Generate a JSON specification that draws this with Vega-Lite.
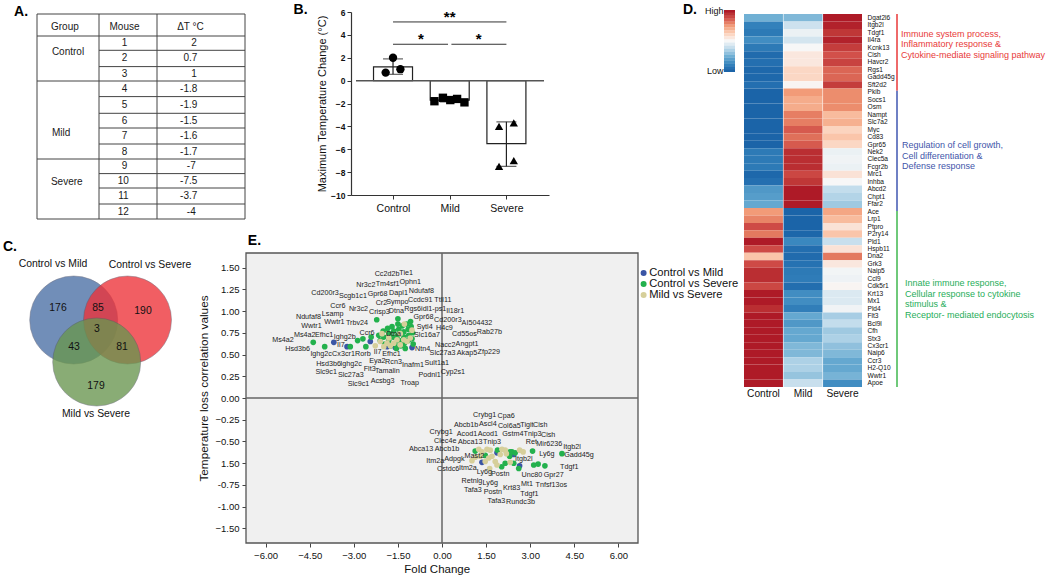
{"$schema":"https://vega.github.io/schema/vega-lite/v6.json","width":1050,"height":580,"padding":0,"autosize":{"type":"none"},"background":"white","config":{"view":{"stroke":null},"font":"Liberation Sans"},
"resolve":{"scale":{"x":"independent","y":"independent","color":"independent","shape":"independent"},"axis":{"x":"independent","y":"independent"},"legend":{"color":"independent"}},
"datasets":{
"tableLines":[{"x":0,"x2":3,"y":-1},{"x":0,"x2":3,"y":0},{"x":1,"x2":3,"y":1},{"x":1,"x2":3,"y":2},{"x":0,"x2":3,"y":3},{"x":1,"x2":3,"y":4},{"x":1,"x2":3,"y":5},{"x":1,"x2":3,"y":6},{"x":1,"x2":3,"y":7},{"x":0,"x2":3,"y":8},{"x":1,"x2":3,"y":9},{"x":1,"x2":3,"y":10},{"x":1,"x2":3,"y":11},{"x":0,"x2":3,"y":12}],
"tableCols":[{"x":0,"y":-1,"y2":12},{"x":1,"y":-1,"y2":12},{"x":2,"y":-1,"y2":12},{"x":3,"y":-1,"y2":12}],
"tableText":[{"t":"Group","c":0.45,"r":-0.4},{"t":"Mouse","c":1.44,"r":-0.4},{"t":"ΔT °C","c":2.38,"r":-0.4},{"t":"Control","c":0.5,"r":1.1},{"t":"Mild","c":0.39,"r":6.3},{"t":"Severe","c":0.48,"r":9.55},
{"t":"1","c":1.44,"r":0.5},{"t":"2","c":1.44,"r":1.5},{"t":"3","c":1.44,"r":2.5},{"t":"4","c":1.44,"r":3.5},{"t":"5","c":1.44,"r":4.5},{"t":"6","c":1.44,"r":5.5},{"t":"7","c":1.44,"r":6.5},{"t":"8","c":1.44,"r":7.5},{"t":"9","c":1.44,"r":8.5},{"t":"10","c":1.42,"r":9.5},{"t":"11","c":1.42,"r":10.5},{"t":"12","c":1.42,"r":11.5},
{"t":"2","c":2.42,"r":0.5},{"t":"0.7","c":2.38,"r":1.5},{"t":"1","c":2.42,"r":2.5},{"t":"-1.8","c":2.36,"r":3.5},{"t":"-1.9","c":2.36,"r":4.5},{"t":"-1.5","c":2.36,"r":5.5},{"t":"-1.6","c":2.36,"r":6.5},{"t":"-1.7","c":2.36,"r":7.5},{"t":"-7","c":2.39,"r":8.5},{"t":"-7.5","c":2.36,"r":9.5},{"t":"-3.7","c":2.36,"r":10.5},{"t":"-4","c":2.39,"r":11.5}],
"bars":[{"group":"Control","pos":1,"mean":1.2,"zero":0,"lo":0.55,"hi":1.9},{"group":"Mild","pos":2,"mean":-1.7,"zero":0,"lo":-1.86,"hi":-1.54},{"group":"Severe","pos":3,"mean":-5.5,"zero":0,"lo":-7.5,"hi":-3.6}],
"mice":[{"group":"Control","pos":0.87,"dt":0.7},{"group":"Control","pos":1,"dt":2},{"group":"Control","pos":1.13,"dt":1},{"group":"Mild","pos":1.73,"dt":-1.8},{"group":"Mild","pos":1.88,"dt":-1.5},{"group":"Mild","pos":2.01,"dt":-1.7},{"group":"Mild","pos":2.13,"dt":-1.6},{"group":"Mild","pos":2.26,"dt":-1.9},{"group":"Severe","pos":2.87,"dt":-7.5},{"group":"Severe","pos":3.13,"dt":-7},{"group":"Severe","pos":2.87,"dt":-4},{"group":"Severe","pos":3.13,"dt":-3.7}],
"brackets":[{"a":1,"b":3,"y":5.13},{"a":1,"b":1.97,"y":3.18},{"a":2.03,"b":3,"y":3.18}],
"stars":[{"t":"**","pos":2,"y":5.6},{"t":"*","pos":1.49,"y":3.65},{"t":"*","pos":2.51,"y":3.65}],
"venn":[{"set":"Control vs Mild","x":73.7,"y":90},{"set":"Control vs Severe","x":127.5,"y":90},{"set":"Mild vs Severe","x":96.7,"y":132}],
"vennText":[{"t":"176","x":58,"y":78},{"t":"85","x":98,"y":78},{"t":"190","x":143,"y":81},{"t":"3","x":97,"y":99},{"t":"43","x":74,"y":117},{"t":"81","x":122,"y":117},{"t":"179","x":96,"y":156},{"t":"Control vs Mild","x":53,"y":34},{"t":"Control vs Severe","x":150,"y":35},{"t":"Mild vs Severe","x":96,"y":184}],
"points":[{"c":"Control vs Mild","f":-3.68,"v":0.64},{"c":"Control vs Mild","f":-3.23,"v":0.59},{"c":"Control vs Mild","f":-2.44,"v":0.65},{"c":"Control vs Mild","f":-1.02,"v":0.58},{"c":"Control vs Mild","f":-1.59,"v":0.58},{"c":"Control vs Mild","f":-1.87,"v":0.59},{"c":"Control vs Mild","f":1.36,"v":-0.74},{"c":"Control vs Mild","f":1.87,"v":-0.63},{"c":"Control vs Mild","f":2.44,"v":-0.65},{"c":"Control vs Mild","f":2.64,"v":-0.78},
{"c":"Control vs Severe","f":-4.38,"v":0.64},{"c":"Control vs Severe","f":-3.99,"v":0.59},{"c":"Control vs Severe","f":-3.12,"v":0.59},{"c":"Control vs Severe","f":-2.87,"v":0.66},{"c":"Control vs Severe","f":-2.59,"v":0.59},{"c":"Control vs Severe","f":-2.41,"v":0.7},{"c":"Control vs Severe","f":-2.69,"v":0.68},{"c":"Control vs Severe","f":-2.22,"v":0.9},{"c":"Control vs Severe","f":-1.5,"v":0.91},{"c":"Control vs Severe","f":-1.07,"v":0.88},{"c":"Control vs Severe","f":-2.15,"v":0.72},{"c":"Control vs Severe","f":-2.1,"v":0.66},{"c":"Control vs Severe","f":-2.0,"v":0.77},{"c":"Control vs Severe","f":-1.98,"v":0.7},{"c":"Control vs Severe","f":-1.95,"v":0.62},{"c":"Control vs Severe","f":-1.85,"v":0.8},{"c":"Control vs Severe","f":-1.8,"v":0.74},{"c":"Control vs Severe","f":-1.81,"v":0.66},{"c":"Control vs Severe","f":-1.7,"v":0.82},{"c":"Control vs Severe","f":-1.64,"v":0.77},{"c":"Control vs Severe","f":-1.66,"v":0.7},{"c":"Control vs Severe","f":-1.6,"v":0.62},{"c":"Control vs Severe","f":-1.5,"v":0.85},{"c":"Control vs Severe","f":-1.47,"v":0.79},{"c":"Control vs Severe","f":-1.5,"v":0.72},{"c":"Control vs Severe","f":-1.45,"v":0.66},{"c":"Control vs Severe","f":-1.4,"v":0.6},{"c":"Control vs Severe","f":-1.35,"v":0.83},{"c":"Control vs Severe","f":-1.3,"v":0.76},{"c":"Control vs Severe","f":-1.3,"v":0.7},{"c":"Control vs Severe","f":-1.28,"v":0.63},{"c":"Control vs Severe","f":-1.2,"v":0.85},{"c":"Control vs Severe","f":-1.15,"v":0.79},{"c":"Control vs Severe","f":-1.13,"v":0.72},{"c":"Control vs Severe","f":-1.15,"v":0.66},{"c":"Control vs Severe","f":-1.05,"v":0.82},{"c":"Control vs Severe","f":-1.0,"v":0.75},{"c":"Control vs Severe","f":-1.02,"v":0.68},{"c":"Control vs Severe","f":-0.98,"v":0.62},{"c":"Control vs Severe","f":-1.25,"v":0.57},{"c":"Control vs Severe","f":-1.55,"v":0.57},{"c":"Control vs Severe","f":-1.75,"v":0.6},
{"c":"Control vs Severe","f":3.08,"v":-0.61},{"c":"Control vs Severe","f":4.08,"v":-0.64},{"c":"Control vs Severe","f":3.12,"v":-0.77},{"c":"Control vs Severe","f":3.27,"v":-0.76},{"c":"Control vs Severe","f":3.5,"v":-0.78},{"c":"Control vs Severe","f":2.61,"v":-0.81},{"c":"Control vs Severe","f":2.03,"v":-0.79},{"c":"Control vs Severe","f":2.15,"v":-0.75},{"c":"Control vs Severe","f":2.3,"v":-0.67},{"c":"Control vs Severe","f":2.38,"v":-0.62},{"c":"Control vs Severe","f":2.49,"v":-0.63},{"c":"Control vs Severe","f":2.44,"v":-0.75},{"c":"Control vs Severe","f":1.89,"v":-0.6},{"c":"Control vs Severe","f":1.13,"v":-0.61},{"c":"Control vs Severe","f":1.47,"v":-0.66},{"c":"Control vs Severe","f":2.32,"v":-0.62},
{"c":"Mild vs Severe","f":-1.28,"v":0.85},{"c":"Mild vs Severe","f":-2.04,"v":0.74},{"c":"Mild vs Severe","f":-1.81,"v":0.69},{"c":"Mild vs Severe","f":-1.42,"v":0.74},{"c":"Mild vs Severe","f":-1.02,"v":0.78},{"c":"Mild vs Severe","f":-2.1,"v":0.65},{"c":"Mild vs Severe","f":-2.27,"v":0.6},{"c":"Mild vs Severe","f":-1.98,"v":0.59},{"c":"Mild vs Severe","f":-1.64,"v":0.63},{"c":"Mild vs Severe","f":-1.42,"v":0.61},{"c":"Mild vs Severe","f":-1.19,"v":0.65},{"c":"Mild vs Severe","f":-1.08,"v":0.69},{"c":"Mild vs Severe","f":-1.87,"v":0.63},{"c":"Mild vs Severe","f":-1.53,"v":0.67},{"c":"Mild vs Severe","f":-1.3,"v":0.67},{"c":"Mild vs Severe","f":-1.76,"v":0.6},
{"c":"Mild vs Severe","f":1.02,"v":-0.72},{"c":"Mild vs Severe","f":1.25,"v":-0.59},{"c":"Mild vs Severe","f":1.36,"v":-0.62},{"c":"Mild vs Severe","f":1.53,"v":-0.59},{"c":"Mild vs Severe","f":1.64,"v":-0.6},{"c":"Mild vs Severe","f":1.59,"v":-0.69},{"c":"Mild vs Severe","f":1.47,"v":-0.73},{"c":"Mild vs Severe","f":1.62,"v":-0.81},{"c":"Mild vs Severe","f":1.81,"v":-0.73},{"c":"Mild vs Severe","f":1.87,"v":-0.77},{"c":"Mild vs Severe","f":1.98,"v":-0.65},{"c":"Mild vs Severe","f":2.15,"v":-0.6},{"c":"Mild vs Severe","f":2.19,"v":-0.64},{"c":"Mild vs Severe","f":2.32,"v":-0.74},{"c":"Mild vs Severe","f":2.64,"v":-0.6},{"c":"Mild vs Severe","f":2.76,"v":-0.62},{"c":"Mild vs Severe","f":1.3,"v":-0.67},{"c":"Mild vs Severe","f":1.7,"v":-0.67},{"c":"Mild vs Severe","f":2.04,"v":-0.59},{"c":"Mild vs Severe","f":1.13,"v":-0.68}],
"labels":[{"g":"Cc2d2b","f":-1.87,"v":1.42},{"g":"Tie1","f":-1.22,"v":1.44},{"g":"Nr3c2","f":-2.59,"v":1.3},{"g":"Tm4sf1","f":-1.85,"v":1.31},{"g":"Ophn1","f":-1.08,"v":1.33},{"g":"Cd200r3","f":-3.98,"v":1.21},{"g":"Scgb1c1","f":-3.03,"v":1.17},{"g":"Gpr68","f":-2.19,"v":1.19},{"g":"Dapl1","f":-1.48,"v":1.21},{"g":"Ndufaf8","f":-0.7,"v":1.23},{"g":"Ccr6","f":-3.54,"v":1.06},{"g":"Cr2","f":-2.06,"v":1.09},{"g":"Sympo","f":-1.52,"v":1.1},{"g":"Ccdc91","f":-0.74,"v":1.13},{"g":"Ttll11","f":0.03,"v":1.13},{"g":"Nr3c2","f":-2.84,"v":1.02},{"g":"Crisp3","f":-2.13,"v":0.99},{"g":"Dtna","f":-1.55,"v":1.0},{"g":"Rgs6idl1-ps1","f":-0.57,"v":1.02},{"g":"Il18r1","f":0.45,"v":1.0},{"g":"Lsamp","f":-3.72,"v":0.96},{"g":"Ndufaf8","f":-4.54,"v":0.93},{"g":"Gpr68","f":-0.63,"v":0.93},{"g":"Cd200r3","f":0.2,"v":0.9},{"g":"AI504432","f":1.19,"v":0.86},{"g":"Wwtr1","f":-4.44,"v":0.83},{"g":"Wwtr1","f":-3.66,"v":0.87},{"g":"Trbv24","f":-2.89,"v":0.86},{"g":"Sytl4","f":-0.59,"v":0.82},{"g":"H4c9","f":0.08,"v":0.8},{"g":"Cd55os","f":0.76,"v":0.74},{"g":"Rab27b","f":1.61,"v":0.76},{"g":"Ms4a2","f":-4.67,"v":0.72},{"g":"Efhc1","f":-4.01,"v":0.72},{"g":"Ighg2b","f":-3.31,"v":0.7},{"g":"Ccr6","f":-2.55,"v":0.75},{"g":"Slc16a7","f":-0.51,"v":0.72},{"g":"Ms4a2","f":-5.41,"v":0.67},{"g":"Dtna","f":-1.65,"v":0.74},{"g":"Nacc2","f":0.11,"v":0.61},{"g":"Angpt1","f":0.85,"v":0.62},{"g":"Hsd3b6","f":-4.91,"v":0.56},{"g":"Il7","f":-3.44,"v":0.61},{"g":"Ntn4","f":-0.66,"v":0.56},{"g":"Ighg2c","f":-4.11,"v":0.51},{"g":"Cx3cr1","f":-3.35,"v":0.51},{"g":"Rorb","f":-2.69,"v":0.51},{"g":"Il7","f":-2.19,"v":0.53},{"g":"Efhc1","f":-1.72,"v":0.51},{"g":"Slc27a3","f":0.02,"v":0.52},{"g":"Akap5","f":0.85,"v":0.52},{"g":"Zfp229","f":1.59,"v":0.53},{"g":"Eya2","f":-2.2,"v":0.43},{"g":"Rcn3","f":-1.65,"v":0.41},{"g":"Inafm1","f":-0.99,"v":0.38},{"g":"Sult1a1","f":-0.18,"v":0.4},{"g":"Hsd3b6","f":-3.86,"v":0.39},{"g":"Ighg2c","f":-3.09,"v":0.39},{"g":"Flt3","f":-2.46,"v":0.33},{"g":"Tamalin","f":-1.86,"v":0.31},{"g":"Slc9c1","f":-3.94,"v":0.3},{"g":"Slc27a3","f":-3.1,"v":0.26},{"g":"Podnl1","f":-0.42,"v":0.27},{"g":"Cyp2s1","f":0.37,"v":0.3},{"g":"Acsbg3","f":-2.02,"v":0.2},{"g":"Slc9c1","f":-2.84,"v":0.16},{"g":"Troap","f":-1.1,"v":0.17},
{"g":"Crybg1","f":1.45,"v":-0.2},{"g":"Cpa6","f":2.18,"v":-0.21},{"g":"Abcb1b","f":0.82,"v":-0.31},{"g":"Ascl4","f":1.56,"v":-0.3},{"g":"Col6a5","f":2.29,"v":-0.32},{"g":"Tigit","f":2.89,"v":-0.31},{"g":"Cish","f":3.34,"v":-0.31},{"g":"Crybg1","f":-0.03,"v":-0.39},{"g":"Acod1","f":0.85,"v":-0.41},{"g":"Acod1","f":1.56,"v":-0.41},{"g":"Gstm4","f":2.41,"v":-0.41},{"g":"Tnip3","f":3.08,"v":-0.41},{"g":"Cish","f":3.61,"v":-0.42},{"g":"Clec4e","f":0.11,"v":-0.49},{"g":"Abca13","f":0.96,"v":-0.51},{"g":"Tnip3","f":1.7,"v":-0.51},{"g":"Ret","f":3.04,"v":-0.51},{"g":"Mir6236","f":3.65,"v":-0.53},{"g":"Itgb2l","f":4.42,"v":-0.56},{"g":"Abca13","f":-0.71,"v":-0.59},{"g":"Abcb1b","f":0.17,"v":-0.59},{"g":"Ly6g","f":3.57,"v":-0.64},{"g":"Gadd45g","f":4.66,"v":-0.66},{"g":"Mast2","f":1.1,"v":-0.67},{"g":"Adpgk","f":0.42,"v":-0.7},{"g":"Itgb2l","f":2.78,"v":-0.7},{"g":"Itm2a","f":-0.23,"v":-0.73},{"g":"Tdgf1","f":4.33,"v":-0.79},{"g":"Cstdc6","f":0.21,"v":-0.82},{"g":"Itm2a","f":0.88,"v":-0.81},{"g":"Ly6g","f":1.44,"v":-0.85},{"g":"Postn","f":1.98,"v":-0.87},{"g":"Unc80","f":3.06,"v":-0.88},{"g":"Gpr27","f":3.8,"v":-0.89},{"g":"Retnlg","f":1.02,"v":-0.95},{"g":"Ly6g","f":1.64,"v":-0.98},{"g":"Mt1","f":2.89,"v":-0.99},{"g":"Tnfsf13os","f":3.72,"v":-1.0},{"g":"Tafa3","f":1.05,"v":-1.06},{"g":"Postn","f":1.73,"v":-1.08},{"g":"Krt83","f":2.37,"v":-1.04},{"g":"Tdgf1","f":2.97,"v":-1.1},{"g":"Tafa3","f":1.85,"v":-1.18},{"g":"Rundc3b","f":2.67,"v":-1.2}],
"bar":[{"v":1},{"v":0.9},{"v":0.8},{"v":0.7},{"v":0.6},{"v":0.5},{"v":0.4},{"v":0.3},{"v":0.2},{"v":0.1},{"v":0},{"v":-0.1},{"v":-0.2},{"v":-0.3},{"v":-0.4},{"v":-0.5},{"v":-0.6},{"v":-0.7},{"v":-0.8},{"v":-0.9},{"v":-1}],
"heat":[
{"g":"Dgat2l6","c":"Control","v":-0.5},{"g":"Dgat2l6","c":"Mild","v":-0.45},{"g":"Dgat2l6","c":"Severe","v":1},
{"g":"Itgb2l","c":"Control","v":-0.8},{"g":"Itgb2l","c":"Mild","v":-0.18},{"g":"Itgb2l","c":"Severe","v":0.97},
{"g":"Tdgf1","c":"Control","v":-0.85},{"g":"Tdgf1","c":"Mild","v":-0.05},{"g":"Tdgf1","c":"Severe","v":0.88},
{"g":"Il4ra","c":"Control","v":-0.72},{"g":"Il4ra","c":"Mild","v":-0.15},{"g":"Il4ra","c":"Severe","v":0.97},
{"g":"Kcnk13","c":"Control","v":-0.85},{"g":"Kcnk13","c":"Mild","v":0},{"g":"Kcnk13","c":"Severe","v":0.85},
{"g":"Cish","c":"Control","v":-0.95},{"g":"Cish","c":"Mild","v":0.1},{"g":"Cish","c":"Severe","v":0.75},
{"g":"Havcr2","c":"Control","v":-0.92},{"g":"Havcr2","c":"Mild","v":0.1},{"g":"Havcr2","c":"Severe","v":0.82},
{"g":"Rgs1","c":"Control","v":-0.97},{"g":"Rgs1","c":"Mild","v":0.2},{"g":"Rgs1","c":"Severe","v":0.68},
{"g":"Gadd45g","c":"Control","v":-0.97},{"g":"Gadd45g","c":"Mild","v":0.2},{"g":"Gadd45g","c":"Severe","v":0.68},
{"g":"Sft2d2","c":"Control","v":-0.92},{"g":"Sft2d2","c":"Mild","v":0.02},{"g":"Sft2d2","c":"Severe","v":0.85},
{"g":"Pkib","c":"Control","v":-1},{"g":"Pkib","c":"Mild","v":0.5},{"g":"Pkib","c":"Severe","v":0.55},
{"g":"Socs1","c":"Control","v":-1},{"g":"Socs1","c":"Mild","v":0.42},{"g":"Socs1","c":"Severe","v":0.55},
{"g":"Osm","c":"Control","v":-1},{"g":"Osm","c":"Mild","v":0.42},{"g":"Osm","c":"Severe","v":0.55},
{"g":"Nampt","c":"Control","v":-1},{"g":"Nampt","c":"Mild","v":0.6},{"g":"Nampt","c":"Severe","v":0.35},
{"g":"Slc7a2","c":"Control","v":-1},{"g":"Slc7a2","c":"Mild","v":0.6},{"g":"Slc7a2","c":"Severe","v":0.4},
{"g":"Myc","c":"Control","v":-1},{"g":"Myc","c":"Mild","v":0.72},{"g":"Myc","c":"Severe","v":0.22},
{"g":"Cd83","c":"Control","v":-1},{"g":"Cd83","c":"Mild","v":0.65},{"g":"Cd83","c":"Severe","v":0.3},
{"g":"Gpr65","c":"Control","v":-1},{"g":"Gpr65","c":"Mild","v":0.72},{"g":"Gpr65","c":"Severe","v":0.2},
{"g":"Nek2","c":"Control","v":-0.85},{"g":"Nek2","c":"Mild","v":0.92},{"g":"Nek2","c":"Severe","v":-0.05},
{"g":"Clec5a","c":"Control","v":-0.85},{"g":"Clec5a","c":"Mild","v":0.92},{"g":"Clec5a","c":"Severe","v":-0.03},
{"g":"Fcgr2b","c":"Control","v":-0.85},{"g":"Fcgr2b","c":"Mild","v":0.92},{"g":"Fcgr2b","c":"Severe","v":-0.05},
{"g":"Mrc1","c":"Control","v":-0.97},{"g":"Mrc1","c":"Mild","v":0.8},{"g":"Mrc1","c":"Severe","v":0.13},
{"g":"Inhba","c":"Control","v":-0.92},{"g":"Inhba","c":"Mild","v":0.88},{"g":"Inhba","c":"Severe","v":0},
{"g":"Abcd2","c":"Control","v":-0.65},{"g":"Abcd2","c":"Mild","v":1},{"g":"Abcd2","c":"Severe","v":-0.22},
{"g":"Chpt1","c":"Control","v":-0.62},{"g":"Chpt1","c":"Mild","v":1},{"g":"Chpt1","c":"Severe","v":-0.28},
{"g":"Ffar2","c":"Control","v":-0.55},{"g":"Ffar2","c":"Mild","v":1},{"g":"Ffar2","c":"Severe","v":-0.35},
{"g":"Ace","c":"Control","v":0.5},{"g":"Ace","c":"Mild","v":-1},{"g":"Ace","c":"Severe","v":0.45},
{"g":"Lrp1","c":"Control","v":0.58},{"g":"Lrp1","c":"Mild","v":-1},{"g":"Lrp1","c":"Severe","v":0.35},
{"g":"Ptpro","c":"Control","v":0.78},{"g":"Ptpro","c":"Mild","v":-1},{"g":"Ptpro","c":"Severe","v":0.13},
{"g":"P2ry14","c":"Control","v":0.62},{"g":"P2ry14","c":"Mild","v":-0.98},{"g":"P2ry14","c":"Severe","v":0.3},
{"g":"Pld1","c":"Control","v":1},{"g":"Pld1","c":"Mild","v":-0.75},{"g":"Pld1","c":"Severe","v":-0.2},
{"g":"Hspb11","c":"Control","v":0.78},{"g":"Hspb11","c":"Mild","v":-0.93},{"g":"Hspb11","c":"Severe","v":0.13},
{"g":"Dna2","c":"Control","v":0.3},{"g":"Dna2","c":"Mild","v":-0.95},{"g":"Dna2","c":"Severe","v":0.62},
{"g":"Grk3","c":"Control","v":0.78},{"g":"Grk3","c":"Mild","v":-0.9},{"g":"Grk3","c":"Severe","v":0.1},
{"g":"Naip5","c":"Control","v":0.92},{"g":"Naip5","c":"Mild","v":-0.85},{"g":"Naip5","c":"Severe","v":-0.02},
{"g":"Ccl9","c":"Control","v":0.92},{"g":"Ccl9","c":"Mild","v":-0.83},{"g":"Ccl9","c":"Severe","v":-0.04},
{"g":"Cdk5r1","c":"Control","v":0.8},{"g":"Cdk5r1","c":"Mild","v":-0.93},{"g":"Cdk5r1","c":"Severe","v":0.02},
{"g":"Krt13","c":"Control","v":1},{"g":"Krt13","c":"Mild","v":-0.72},{"g":"Krt13","c":"Severe","v":-0.12},
{"g":"Mx1","c":"Control","v":1},{"g":"Mx1","c":"Mild","v":-0.72},{"g":"Mx1","c":"Severe","v":-0.12},
{"g":"Pld4","c":"Control","v":0.92},{"g":"Pld4","c":"Mild","v":-0.82},{"g":"Pld4","c":"Severe","v":-0.03},
{"g":"Flt3","c":"Control","v":1},{"g":"Flt3","c":"Mild","v":-0.55},{"g":"Flt3","c":"Severe","v":-0.32},
{"g":"Bcl9l","c":"Control","v":1},{"g":"Bcl9l","c":"Mild","v":-0.65},{"g":"Bcl9l","c":"Severe","v":-0.22},
{"g":"Cfh","c":"Control","v":1},{"g":"Cfh","c":"Mild","v":-0.55},{"g":"Cfh","c":"Severe","v":-0.35},
{"g":"Stx3","c":"Control","v":1},{"g":"Stx3","c":"Mild","v":-0.55},{"g":"Stx3","c":"Severe","v":-0.3},
{"g":"Cx3cr1","c":"Control","v":1},{"g":"Cx3cr1","c":"Mild","v":-0.45},{"g":"Cx3cr1","c":"Severe","v":-0.4},
{"g":"Naip6","c":"Control","v":1},{"g":"Naip6","c":"Mild","v":-0.45},{"g":"Naip6","c":"Severe","v":-0.45},
{"g":"Ccr3","c":"Control","v":1},{"g":"Ccr3","c":"Mild","v":-0.3},{"g":"Ccr3","c":"Severe","v":-0.55},
{"g":"H2-Q10","c":"Control","v":1},{"g":"H2-Q10","c":"Mild","v":-0.3},{"g":"H2-Q10","c":"Severe","v":-0.55},
{"g":"Wwtr1","c":"Control","v":1},{"g":"Wwtr1","c":"Mild","v":-0.38},{"g":"Wwtr1","c":"Severe","v":-0.48},
{"g":"Apoe","c":"Control","v":1},{"g":"Apoe","c":"Mild","v":-0.2},{"g":"Apoe","c":"Severe","v":-0.72}],
"annotRules":[{"cat":"immune","a":0,"b":10.3},{"cat":"growth","a":10.3,"b":26.4},{"cat":"innate","a":26.4,"b":50}],
"annotText":[{"cat":"immune","t":"Immune system process,","x":39,"r":2.68},{"cat":"immune","t":"Inflammatory response &","x":39,"r":4.02},{"cat":"immune","t":"Cytokine-mediate signaling pathway","x":39,"r":5.5},{"cat":"growth","t":"Regulation of cell growth,","x":40,"r":17.56},{"cat":"growth","t":"Cell differentiation &","x":40,"r":19.03},{"cat":"growth","t":"Defense response","x":40,"r":20.38},{"cat":"innate","t":"Innate immune response,","x":43,"r":36.06},{"cat":"innate","t":"Cellular response to cytokine","x":43,"r":37.53},{"cat":"innate","t":"stimulus &","x":43,"r":38.87},{"cat":"innate","t":"Receptor- mediated endocytosis","x":43,"r":40.35}]
},
"layer":[
{"layer":[
{"data":{"name":"tableLines"},"mark":{"type":"rule","stroke":"#444","strokeWidth":1},"encoding":{"x":{"field":"x","type":"quantitative","axis":null,"scale":{"domain":[-1,0,1,2,3],"range":[0,37,99,157,245],"nice":false,"zero":false}},"x2":{"field":"x2"},"y":{"field":"y","type":"quantitative","axis":null,"scale":{"domain":[-2,-1,0,1,2,3,4,5,6,7,8,9,10,11,12],"range":[0,14,36,50.3,66.6,81,96.6,113.3,128,144,159,173.6,188,204,219],"nice":false,"zero":false}}}},
{"data":{"name":"tableCols"},"mark":{"type":"rule","stroke":"#444","strokeWidth":1},"encoding":{"x":{"field":"x","type":"quantitative","axis":null},"y":{"field":"y","type":"quantitative","axis":null},"y2":{"field":"y2"}}},
{"data":{"name":"tableText"},"mark":{"type":"text","fontSize":10,"color":"#1a1a1a","align":"center","baseline":"middle"},"encoding":{"x":{"field":"c","type":"quantitative","axis":null},"y":{"field":"r","type":"quantitative","axis":null},"text":{"field":"t"}}},
{"data":{"values":[{"t":"A.","c":-0.43,"r":-1.14}]},"mark":{"type":"text","fontSize":14,"fontWeight":"bold","align":"center","baseline":"middle"},"encoding":{"x":{"field":"c","type":"quantitative","axis":null},"y":{"field":"r","type":"quantitative","axis":null},"text":{"field":"t"}}}
]},
{"layer":[
{"data":{"name":"bars"},"mark":{"type":"bar","width":39,"fill":"white","stroke":"#222","strokeWidth":1.2},"encoding":{"x":{"field":"pos","type":"quantitative","title":null,"scale":{"domain":[0.347,3.663],"range":[351,549],"nice":false,"zero":false},"axis":{"orient":"bottom","values":[1,2,3],"labelExpr":"datum.value==1?'Control':datum.value==2?'Mild':'Severe'","offset":-385,"grid":false,"labelFontSize":10.5,"labelColor":"#111","tickColor":"#333","domainColor":"#333","domainWidth":1.2,"tickSize":4,"labelPadding":4,"labelFlush":false}},"y":{"field":"mean","type":"quantitative","title":"Maximum Temperature Change (°C)","scale":{"domain":[-10,6],"range":[195,12],"nice":false,"zero":false},"axis":{"orient":"left","values":[-10,-8,-6,-4,-2,0,2,4,6],"offset":-351,"grid":false,"labelFontSize":8.5,"labelFontWeight":"bold","labelColor":"#111","tickColor":"#333","domainColor":"#333","domainWidth":1.2,"tickSize":4,"titleFontSize":11,"titleFontWeight":"normal","titleColor":"#111","titlePadding":3}},"y2":{"field":"zero"}}},
{"data":{"values":[{"a":0.347,"b":3.663,"y":0}]},"mark":{"type":"rule","stroke":"#555","strokeWidth":1.5},"encoding":{"x":{"field":"a","type":"quantitative"},"x2":{"field":"b"},"y":{"field":"y","type":"quantitative"}}},
{"data":{"name":"bars"},"mark":{"type":"rule","stroke":"#222","strokeWidth":1.2},"encoding":{"x":{"field":"pos","type":"quantitative"},"y":{"field":"lo","type":"quantitative"},"y2":{"field":"hi"}}},
{"data":{"name":"bars"},"mark":{"type":"tick","orient":"horizontal","size":20,"thickness":1.2,"color":"#222"},"encoding":{"x":{"field":"pos","type":"quantitative"},"y":{"field":"lo","type":"quantitative"}}},
{"data":{"name":"bars"},"mark":{"type":"tick","orient":"horizontal","size":20,"thickness":1.2,"color":"#222"},"encoding":{"x":{"field":"pos","type":"quantitative"},"y":{"field":"hi","type":"quantitative"}}},
{"data":{"name":"mice"},"mark":{"type":"point","filled":true,"size":70,"opacity":1,"color":"#000"},"encoding":{"x":{"field":"pos","type":"quantitative"},"y":{"field":"dt","type":"quantitative"},"shape":{"field":"group","type":"nominal","legend":null,"scale":{"domain":["Control","Mild","Severe"],"range":["circle","square","triangle-up"]}}}},
{"data":{"name":"brackets"},"mark":{"type":"rule","stroke":"#333","strokeWidth":1},"encoding":{"x":{"field":"a","type":"quantitative"},"x2":{"field":"b"},"y":{"field":"y","type":"quantitative"}}},
{"data":{"name":"stars"},"mark":{"type":"text","fontSize":15,"fontWeight":"bold","align":"center","baseline":"middle"},"encoding":{"x":{"field":"pos","type":"quantitative"},"y":{"field":"y","type":"quantitative"},"text":{"field":"t"}}},
{"data":{"values":[{"t":"B.","pos":-0.63,"y":6.17}]},"mark":{"type":"text","fontSize":14,"fontWeight":"bold","align":"center","baseline":"middle"},"encoding":{"x":{"field":"pos","type":"quantitative"},"y":{"field":"y","type":"quantitative"},"text":{"field":"t"}}}
]},
{"data":{"name":"bar"},"mark":{"type":"rect"},"encoding":{"x":{"datum":0,"type":"quantitative","axis":null,"scale":{"domain":[0,1],"range":[724,735],"nice":false,"zero":false}},"x2":{"datum":1},"y":{"field":"v","type":"nominal","title":null,"scale":{"domain":[1,0.9,0.8,0.7,0.6,0.5,0.4,0.3,0.2,0.1,0,-0.1,-0.2,-0.3,-0.4,-0.5,-0.6,-0.7,-0.8,-0.9,-1],"range":[10,72],"paddingInner":0,"paddingOuter":0},"axis":{"orient":"left","values":[1,-1],"labelExpr":"datum.value==1?'High':'Low'","offset":-724,"domain":false,"ticks":false,"labelFontSize":9,"labelColor":"#111","labelPadding":1,"labelAngle":0}},"color":{"field":"v","type":"quantitative","legend":null,"scale":{"domain":[-1,-0.75,-0.5,-0.25,0,0.25,0.5,0.75,1],"range":["#1b64a8","#3a88bf","#70b0d4","#bcd9ea","#f7f7f7","#fbcfb8","#f29b78","#d2504a","#ae1a27"]}}}},
{"data":{"name":"heat"},"mark":{"type":"rect"},"encoding":{"x":{"field":"c","type":"nominal","title":null,"scale":{"domain":["Control","Mild","Severe"],"range":[744,862],"paddingInner":0.015,"paddingOuter":0},"axis":{"orient":"bottom","offset":-193,"domain":false,"ticks":false,"labelAngle":0,"labelFontSize":10.2,"labelColor":"#111","labelPadding":1}},"y":{"field":"g","type":"nominal","title":null,"scale":{"domain":["Dgat2l6","Itgb2l","Tdgf1","Il4ra","Kcnk13","Cish","Havcr2","Rgs1","Gadd45g","Sft2d2","Pkib","Socs1","Osm","Nampt","Slc7a2","Myc","Cd83","Gpr65","Nek2","Clec5a","Fcgr2b","Mrc1","Inhba","Abcd2","Chpt1","Ffar2","Ace","Lrp1","Ptpro","P2ry14","Pld1","Hspb11","Dna2","Grk3","Naip5","Ccl9","Cdk5r1","Krt13","Mx1","Pld4","Flt3","Bcl9l","Cfh","Stx3","Cx3cr1","Naip6","Ccr3","H2-Q10","Wwtr1","Apoe"],"range":[14,387],"paddingInner":0,"paddingOuter":0},"axis":{"orient":"right","offset":-188,"domain":false,"ticks":false,"labelFontSize":6.6,"labelColor":"#111","labelPadding":5,"labelOverlap":false}},"color":{"field":"v","type":"quantitative","legend":null,"scale":{"domain":[-1,-0.75,-0.5,-0.25,0,0.25,0.5,0.75,1],"range":["#1b64a8","#3a88bf","#70b0d4","#bcd9ea","#f7f7f7","#fbcfb8","#f29b78","#d2504a","#ae1a27"]}}}},
{"layer":[
{"data":{"name":"annotRules"},"mark":{"type":"rule","strokeWidth":2},"encoding":{"x":{"datum":35,"type":"quantitative","axis":null,"scale":{"domain":[0,188],"range":[862,1050],"nice":false,"zero":false}},"y":{"field":"a","type":"quantitative","axis":null,"scale":{"domain":[0,50],"range":[14,387],"nice":false,"zero":false}},"y2":{"field":"b"},"color":{"field":"cat","type":"nominal","legend":null,"scale":{"domain":["immune","growth","innate"],"range":["#ee6a6a","#6f80c4","#6fc97a"]}}}},
{"data":{"values":[{"t":"D.","x":-172,"r":-0.54}]},"mark":{"type":"text","fontSize":14,"fontWeight":"bold","align":"center","baseline":"middle","color":"#000"},"encoding":{"x":{"field":"x","type":"quantitative","axis":null},"y":{"field":"r","type":"quantitative","axis":null},"text":{"field":"t"}}}
]},
{"data":{"name":"annotText"},"mark":{"type":"text","fontSize":9,"align":"left","baseline":"middle"},"encoding":{"x":{"field":"x","type":"quantitative","axis":null,"scale":{"domain":[0,188],"range":[862,1050],"nice":false,"zero":false}},"y":{"field":"r","type":"quantitative","axis":null,"scale":{"domain":[0,50],"range":[14,387],"nice":false,"zero":false}},"text":{"field":"t"},"color":{"field":"cat","type":"nominal","legend":null,"scale":{"domain":["immune","growth","innate"],"range":["#e83a3a","#4255aa","#1fae5a"]}}}},
{"layer":[
{"data":{"name":"venn"},"mark":{"type":"point","filled":true,"size":7744,"opacity":0.78,"stroke":"#556","strokeWidth":0.5,"shape":"circle"},"encoding":{"x":{"field":"x","type":"quantitative","axis":null,"scale":{"domain":[0,245],"range":[0,245],"nice":false,"zero":false}},"y":{"field":"y","type":"quantitative","axis":null,"scale":{"domain":[0,350],"range":[230,580],"nice":false,"zero":false}},"color":{"field":"set","type":"nominal","legend":null,"scale":{"domain":["Control vs Mild","Control vs Severe","Mild vs Severe"],"range":["#4a6fa5","#ee3138","#69964f"]}}}},
{"data":{"name":"vennText"},"mark":{"type":"text","fontSize":10.4,"align":"center","baseline":"middle","color":"#111"},"encoding":{"x":{"field":"x","type":"quantitative","axis":null},"y":{"field":"y","type":"quantitative","axis":null},"text":{"field":"t"}}},
{"data":{"values":[{"t":"C.","x":10,"y":17}]},"mark":{"type":"text","fontSize":14,"fontWeight":"bold","align":"center","baseline":"middle"},"encoding":{"x":{"field":"x","type":"quantitative","axis":null},"y":{"field":"y","type":"quantitative","axis":null},"text":{"field":"t"}}}
]},
{"layer":[
{"data":{"values":[{"a":-6.667,"b":6.667,"c":-1.667,"d":1.667}]},"mark":{"type":"rect","fill":"#f0f0f0","stroke":"#555","strokeWidth":1.3},"encoding":{"x":{"field":"a","type":"quantitative","title":"Fold Change","scale":{"domain":[-6.667,6.667],"range":[246,638],"nice":false,"zero":false},"axis":{"orient":"bottom","values":[-6,-4.5,-3,-1.5,0,1.5,3,4.5,6],"format":".2f","offset":-37,"grid":false,"domain":false,"tickColor":"#444","tickSize":4,"labelFontSize":9.5,"labelColor":"#111","labelPadding":3,"titleFontSize":11.5,"titleFontWeight":"normal","titleColor":"#111","titleX":436.7,"titlePadding":4}},"x2":{"field":"b"},"y":{"field":"c","type":"quantitative","title":"Temperature loss correlation values","scale":{"domain":[-1.667,1.667],"range":[543,253],"nice":false,"zero":false},"axis":{"orient":"left","values":[-1.5,-1.25,-1,-0.75,-0.5,-0.25,0,0.25,0.5,0.75,1,1.25,1.5],"labelExpr":"datum.value==-0.75?'1.50':datum.value==-1?'-0.75':datum.value==-1.25?'-1.00':format(datum.value,'.2f')","offset":-246,"grid":false,"domain":false,"tickColor":"#444","tickSize":4,"labelFontSize":9.5,"labelColor":"#111","labelPadding":3,"labelOverlap":false,"titleFontSize":11.8,"titleFontWeight":"normal","titleColor":"#111","titleY":388,"titlePadding":5}},"y2":{"field":"d"}}},
{"data":{"values":[{"a":0,"c":-1.667,"d":1.667}]},"mark":{"type":"rule","stroke":"#666","strokeWidth":1.5},"encoding":{"x":{"field":"a","type":"quantitative"},"y":{"field":"c","type":"quantitative"},"y2":{"field":"d"}}},
{"data":{"values":[{"a":-6.667,"b":6.667,"c":0}]},"mark":{"type":"rule","stroke":"#666","strokeWidth":1.5},"encoding":{"x":{"field":"a","type":"quantitative"},"x2":{"field":"b"},"y":{"field":"c","type":"quantitative"}}},
{"data":{"name":"points"},"mark":{"type":"point","filled":true,"size":32,"opacity":1,"shape":"circle"},"encoding":{"x":{"field":"f","type":"quantitative"},"y":{"field":"v","type":"quantitative"},"color":{"field":"c","type":"nominal","scale":{"domain":["Control vs Mild","Control vs Severe","Mild vs Severe"],"range":["#3a55a5","#23b14d","#d6cf9a"]},"legend":{"title":null,"orient":"none","legendX":638,"legendY":268,"symbolSize":36,"symbolType":"circle","labelFontSize":11.2,"labelColor":"#111","labelOffset":0,"clipHeight":10,"rowPadding":-2,"padding":0,"symbolStrokeWidth":0}}}},
{"data":{"name":"labels"},"mark":{"type":"text","fontSize":7.2,"color":"#222","align":"center","baseline":"middle"},"encoding":{"x":{"field":"f","type":"quantitative"},"y":{"field":"v","type":"quantitative"},"text":{"field":"g"}}},
{"data":{"values":[{"t":"E.","f":-6.38,"v":1.8}]},"mark":{"type":"text","fontSize":14,"fontWeight":"bold","align":"center","baseline":"middle"},"encoding":{"x":{"field":"f","type":"quantitative"},"y":{"field":"v","type":"quantitative"},"text":{"field":"t"}}}
]}
]}
